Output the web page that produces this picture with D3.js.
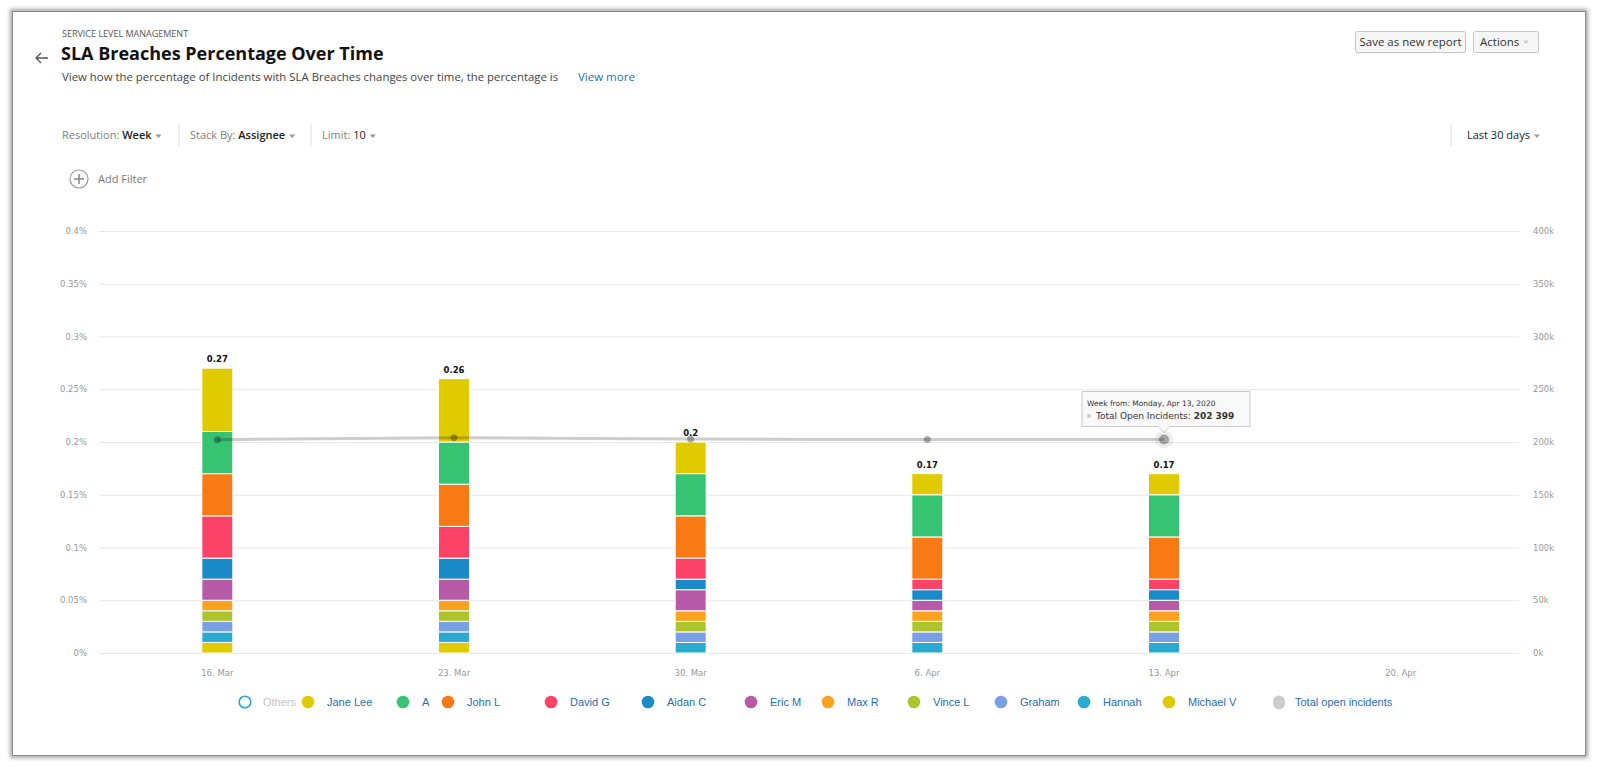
<!DOCTYPE html>
<html>
<head>
<meta charset="utf-8">
<script src="https://cdn.jsdelivr.net/npm/d3@7"></script>
<style>
body{margin:0;background:#fff;}
#card{position:absolute;left:12px;top:11px;width:1572px;height:743px;border:1px solid #8a8a8a;box-shadow:0 0 4px 2px rgba(0,0,0,0.35);background:#fff;}
svg{position:absolute;left:0;top:0;}
</style>
</head>
<body>
<div id="card"></div>
<svg id="chart" width="1600" height="767"></svg>
<script>
// data (values in %)
var weekStarts = ["2020-03-16","2020-03-23","2020-03-30","2020-04-06","2020-04-13","2020-04-20"];
var assignees = ["Jane Lee","A","John L","David G","Aidan C","Eric M","Max R","Vince L","Graham","Hannah","Michael V"];
var colors = ["#e0cb00","#36c472","#f97a14","#fc4267","#1a8ac8","#b75ba9","#fba21e","#aec42c","#79a0e4","#2aaad0","#e0cb00"];

var janeLee  = [0.06,0.06,0.03,0.02,0.02];
var aVals    = [0.04,0.04,0.04,0.04,0.04];
var johnL    = [0.04,0.04,0.04,0.04,0.04];
var davidG   = [0.04,0.03,0.02,0.01,0.01];
var aidanC   = [0.02,0.02,0.01,0.01,0.01];
var ericM    = [0.02,0.02,0.02,0.01,0.01];
var maxR     = [0.01,0.01,0.01,0.01,0.01];
var vinceL   = [0.01,0.01,0.01,0.01,0.01];
var graham   = [0.01,0.01,0.01,0.01,0.01];
var hannah   = [0.01,0.01,0.01,0.01,0.01];
var michaelV = [0.01,0.01,0,0,0];
var totalOpen = [202200,204100,202800,202400,202399];

var yTicks = [0,0.05,0.1,0.15,0.2,0.25,0.3,0.35,0.4];
var rightTicks = [0,50000,100000,150000,200000,250000,300000,350000,400000];

// legend layout (x of the dot)
var legendX = [308,403,448,551,648,751,828,914,1001,1084,1169];

var seriesVals = [janeLee,aVals,johnL,davidG,aidanC,ericM,maxR,vinceL,graham,hannah,michaelV];

var svg = d3.select("#chart");
var parse = d3.timeParse("%Y-%m-%d");
var ui = "'Open Sans', sans-serif";
var hc = "'DejaVu Sans', sans-serif";

// ---- header ----
svg.append("text").attr("x",62).attr("y",36.5).text("SERVICE LEVEL MANAGEMENT")
   .style("font-family",ui).style("font-size","9px").attr("fill","#555");
svg.append("path").attr("d","M48,58 L36,58 M41,53 L36,58 L41,63")
   .attr("stroke","#555").attr("stroke-width",1.3).attr("fill","none");
svg.append("text").attr("x",61).attr("y",60).text("SLA Breaches Percentage Over Time")
   .style("font-family",ui).style("font-size","18px").style("font-weight","bold").attr("fill","#111");
svg.append("text").attr("x",62).attr("y",81)
   .text("View how the percentage of Incidents with SLA Breaches changes over time, the percentage is")
   .style("font-family",ui).style("font-size","11.4px").attr("fill","#444");
svg.append("text").attr("x",578).attr("y",81).text("View more")
   .style("font-family",ui).style("font-size","11.5px").attr("fill","#1a73b8");

function caret(x,y,col)
{
  svg.append("path").attr("d","M"+x+","+(y-1.5)+" l6,0 l-3,3.5 z").attr("fill",col);
}

function dropdown(x,label,value,weight)
{
  var t = svg.append("text").attr("x",x).attr("y",139)
             .style("font-family",ui).style("font-size","11px");
  t.append("tspan").text(label).attr("fill","#808080");
  t.append("tspan").text(value).attr("fill","#222").style("font-weight",weight);
  var w = t.node().getComputedTextLength();
  caret(x+w+4,136,"#999");
}
dropdown(62,"Resolution: ","Week","600");
dropdown(190,"Stack By: ","Assignee","600");
dropdown(322,"Limit: ","10","normal");
dropdown(1467,"","Last 30 days","normal");

[179,311,1451].forEach(function(sx)
{
  svg.append("line").attr("x1",sx).attr("x2",sx).attr("y1",124).attr("y2",146)
     .attr("stroke","#ddd");
});

// add filter
svg.append("circle").attr("cx",79).attr("cy",179).attr("r",9)
   .attr("fill","none").attr("stroke","#999").attr("stroke-width",1.2);
svg.append("path").attr("d","M79,174 L79,184 M74,179 L84,179")
   .attr("stroke","#888").attr("stroke-width",1.5);
svg.append("text").attr("x",98).attr("y",183).text("Add Filter")
   .style("font-family",ui).style("font-size","11px").attr("fill","#777");

// buttons
svg.append("rect").attr("x",1355.5).attr("y",31.5).attr("width",110).attr("height",21).attr("rx",2)
   .attr("fill","#f6f6f6").attr("stroke","#c4c4c4");
svg.append("text").attr("x",1410.5).attr("y",46).attr("text-anchor","middle").text("Save as new report")
   .style("font-family",ui).style("font-size","11.5px").attr("fill","#333");
svg.append("rect").attr("x",1473.5).attr("y",31.5).attr("width",65).attr("height",21).attr("rx",2)
   .attr("fill","#f6f6f6").attr("stroke","#c4c4c4");
svg.append("text").attr("x",1480).attr("y",46).text("Actions")
   .style("font-family",ui).style("font-size","11.5px").attr("fill","#333");
caret(1523,42,"#ccc");

// ---- chart ----
var x = d3.scaleBand().domain(weekStarts).range([99,1519]);
var y = d3.scaleLinear().domain([0,0.4]).range([653,231]);
var yR = d3.scaleLinear().domain([0,400000]).range([653,231]);
var barW = 31;

var gridAxis = d3.axisLeft(y).tickValues(yTicks).tickSize(-(1519-99)).tickPadding(12)
                 .tickFormat(function(d){return d3.format("~g")(d)+"%";});
var gy = svg.append("g").attr("transform","translate(99,0)").call(gridAxis);
gy.select(".domain").remove();
gy.selectAll("line").attr("stroke","#e6e6e6");
gy.selectAll("text").attr("fill","#999").style("font-family",hc).style("font-size","8.5px");

var rAxis = d3.axisRight(yR).tickValues(rightTicks).tickSize(0).tickPadding(14)
              .tickFormat(function(d){return (d/1000)+"k";});
var gr = svg.append("g").attr("transform","translate(1519,0)").call(rAxis);
gr.select(".domain").remove();
gr.selectAll("text").attr("fill","#999").style("font-family",hc).style("font-size","8.5px");

var xAxis = d3.axisBottom(x).tickSize(0).tickPadding(17)
              .tickFormat(function(d){return d3.timeFormat("%-d. %b")(parse(d));});
var gx = svg.append("g").attr("transform","translate(0,653)").call(xAxis);
gx.select(".domain").remove();
gx.selectAll("text").attr("fill","#999").style("font-family",hc).style("font-size","8.5px");

// stack rows
var rows = [];
totalOpen.forEach(function(t,i)
{
  var r = {week:weekStarts[i]};
  assignees.forEach(function(a,k){ r[a] = seriesVals[k][i]; });
  rows.push(r);
});
var colorOf = {};
assignees.forEach(function(a,k){ colorOf[a] = colors[k]; });

var stack = d3.stack().keys(assignees.slice().reverse());
var layers = svg.append("g").selectAll("g")
                .data(stack(rows))
                .enter()
                .append("g")
                .attr("fill",function(d){return colorOf[d.key];});

layers.selectAll("rect")
      .data(function(d){return d.filter(function(p){return p[1]-p[0]>0;});})
      .enter()
      .append("rect")
      .attr("x",function(d){return x(d.data.week)+x.bandwidth()/2-barW/2;})
      .attr("y",function(d){return y(d[1]);})
      .attr("width",barW)
      .attr("height",function(d){return y(d[0])-y(d[1]);})
      .attr("stroke","#fff")
      .attr("stroke-width",1);

// totals on top
svg.append("g").selectAll("text")
   .data(rows)
   .enter()
   .append("text")
   .attr("x",function(d){return x(d.week)+x.bandwidth()/2;})
   .attr("y",function(d){return y(d3.sum(assignees,function(a){return d[a];}))-6;})
   .attr("text-anchor","middle")
   .text(function(d){return d3.format(".2~f")(d3.sum(assignees,function(a){return d[a];}));})
   .style("font-family",hc).style("font-size","8.5px").style("font-weight","bold").attr("fill","#111");

// total open incidents line
var line = d3.line()
             .x(function(d,i){return x(weekStarts[i])+x.bandwidth()/2;})
             .y(function(d){return yR(d);})
             .curve(d3.curveMonotoneX);
svg.append("path").datum(totalOpen).attr("d",line)
   .attr("fill","none").attr("stroke","#000").attr("stroke-opacity",0.2).attr("stroke-width",3);

var hi = 4;
svg.append("g").selectAll("circle")
   .data(totalOpen)
   .enter()
   .append("circle")
   .attr("cx",function(d,i){return x(weekStarts[i])+x.bandwidth()/2;})
   .attr("cy",function(d){return yR(d);})
   .attr("r",function(d,i){return i==hi?5:3.5;})
   .attr("fill","#000").attr("fill-opacity",0.3);

// hovered point + tooltip
var px = x(weekStarts[hi])+x.bandwidth()/2, py = yR(totalOpen[hi]);
svg.append("circle").attr("cx",px).attr("cy",py).attr("r",9)
   .attr("fill","#000").attr("fill-opacity",0.07);

var tip = svg.append("g");
tip.append("path")
   .attr("d","M"+(px-82)+","+(py-48)+" H"+(px+86)+" V"+(py-13)+" H"+(px+6)+" L"+px+","+(py-7)+
             " L"+(px-6)+","+(py-13)+" H"+(px-82)+" Z")
   .attr("fill","#f8f8f8").attr("fill-opacity",0.92).attr("stroke","#c8c8c8");
tip.append("text").attr("x",px-77).attr("y",py-33)
   .text("Week from: "+d3.timeFormat("%A, %b %-d, %Y")(parse(weekStarts[hi])))
   .style("font-family",hc).style("font-size","7.5px").attr("fill","#333");
tip.append("circle").attr("cx",px-75).attr("cy",py-23.5).attr("r",2).attr("fill","#ccc");
var t2 = tip.append("text").attr("x",px-68).attr("y",py-20)
            .style("font-family",hc).style("font-size","9px").attr("fill","#333");
t2.append("tspan").text("Total Open Incidents: ");
t2.append("tspan").style("font-weight","bold")
  .text(d3.format(",")(totalOpen[hi]).replace(/,/g," "));

// ---- legend ----
var lg = svg.append("g").attr("transform","translate(0,702)");
lg.append("circle").attr("cx",245).attr("cy",0).attr("r",5.8)
  .attr("fill","none").attr("stroke","#26a6d8").attr("stroke-width",1.6);
lg.append("text").attr("x",263).attr("y",4).text("Others")
  .style("font-family","'Liberation Sans', Arial, sans-serif").style("font-size","11px").attr("fill","#c4c4c4");

var items = lg.selectAll("g.item")
              .data(assignees)
              .enter()
              .append("g")
              .classed("item",true)
              .attr("transform",function(d,i){return "translate("+legendX[i]+",0)";});
items.append("circle").attr("r",6.3).attr("fill",function(d,i){return colors[i];});
items.append("text").attr("x",19).attr("y",4).text(function(d){return d;})
     .style("font-family","'Liberation Sans', Arial, sans-serif").style("font-size","11px").attr("fill","#1f6db5");

lg.append("rect").attr("x",1273).attr("y",-6.5).attr("width",12).attr("height",14).attr("rx",6)
  .attr("fill","#ccc");
lg.append("text").attr("x",1295).attr("y",4).text("Total open incidents")
  .style("font-family","'Liberation Sans', Arial, sans-serif").style("font-size","11px").attr("fill","#1f6db5");
</script>
</body>
</html>
